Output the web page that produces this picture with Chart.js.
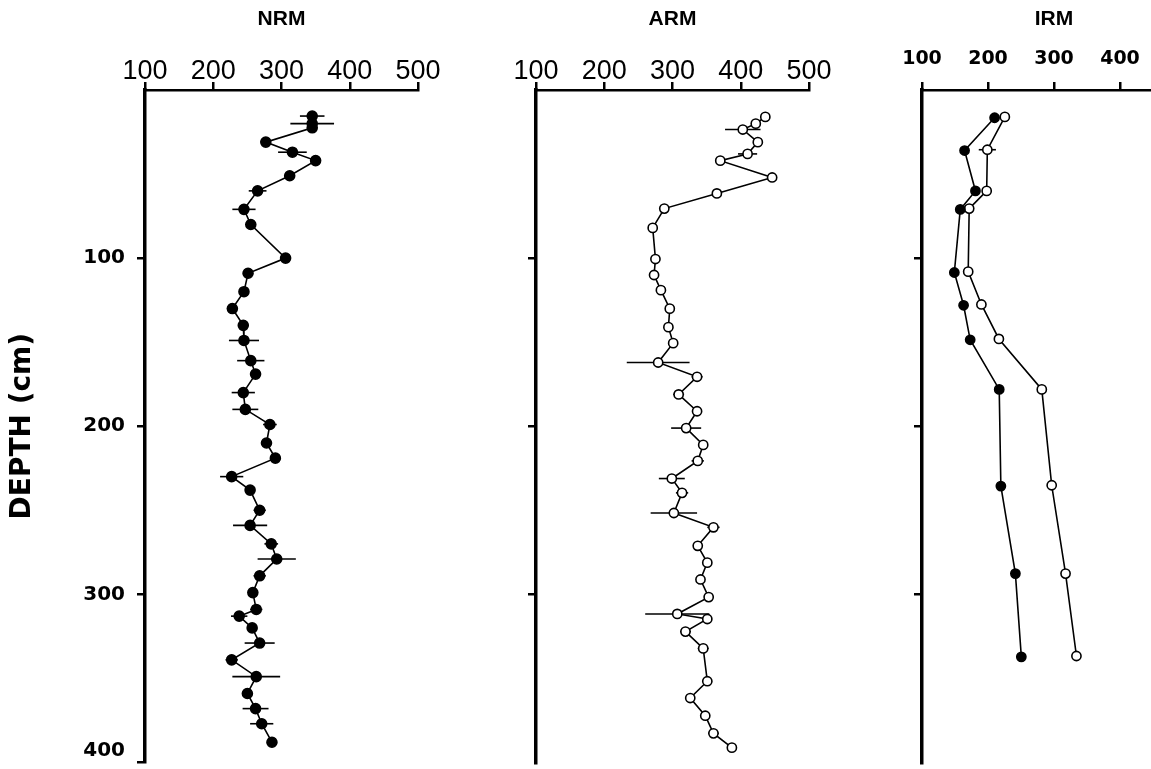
<!DOCTYPE html>
<html><head><meta charset="utf-8">
<script src="https://cdn.jsdelivr.net/npm/chart.js@4.4.1/dist/chart.umd.min.js"></script>
<style>
html,body{margin:0;padding:0;background:#fff;overflow:hidden;width:1151px;height:769px;position:relative;}
canvas{position:absolute;top:0;}
</style></head><body>
<canvas id="nrm" width="460" height="769" style="left:0px"></canvas>
<canvas id="arm" width="400" height="769" style="left:460px"></canvas>
<canvas id="irm" width="340" height="769" style="left:860px"></canvas>
<script>
// ---- data ----
const valueTicks = [100, 200, 300, 400, 500];
const nrmDepthTicks = [100, 200, 300, 400];
const otherDepthTicks = [100, 200, 300];

const nrmDepth = [15.5, 20, 22.5, 31, 37, 42, 51, 60, 71, 80, 100, 109, 120, 130, 140, 149, 161, 169, 180, 190, 199, 210, 219, 230, 238, 250, 259, 270, 279, 289, 299, 309, 313, 320, 329, 339, 349, 359, 368, 377, 388];
const nrmValue = [345, 345, 345, 277, 316, 350, 312, 265, 245, 255, 306, 251, 245, 228, 244, 245, 255, 262, 244, 247, 283, 278, 291, 227, 254, 268, 254, 285, 293, 268, 258, 263, 238, 257, 268, 227, 263, 250, 262, 271, 286];
const nrmError = [18, 32, 0, 0, 21, 0, 0, 13, 17, 5, 0, 0, 5, 8, 5, 22, 20, 8, 17, 19, 10, 0, 0, 17, 5, 9, 25, 10, 28, 9, 0, 9, 12, 6, 22, 9, 35, 0, 19, 17, 0];

const armDepth = [16, 20, 23.5, 31, 38, 42, 52, 61.5, 70.5, 82, 100.5, 110, 119, 130, 141, 150.5, 162, 170.5, 181, 191, 201, 211, 220.5, 231, 239.5, 251.5, 260, 271, 281, 291, 301.5, 311.5, 314.5, 322, 332, 351.5, 361.5, 372, 382.5, 391];
const armValue = [436, 422, 403, 425, 410, 370, 446, 365, 288, 271, 275, 273, 283, 296, 294, 301, 279, 336, 309, 336, 320, 345, 337, 299, 314, 302, 360, 337, 351, 341, 353, 307, 351, 319, 345, 351, 326, 348, 360, 387];
const armError = [0, 0, 26, 0, 14, 0, 0, 0, 7, 0, 0, 0, 6, 5, 0, 7, 46, 8, 8, 7, 22, 7, 9, 19, 9, 34, 9, 7, 6, 5, 0, 47, 0, 8, 8, 7, 0, 0, 8, 0];

const irmFilledDepth = [16.5, 36, 60, 71, 108.5, 128, 148.5, 178, 235.5, 287.5, 337];
const irmFilledValue = [210, 164.5, 181, 158, 149, 163, 173, 217, 219.5, 241.5, 250.5];
const irmOpenDepth = [16, 35.5, 60, 70.5, 108, 127.5, 148, 178, 235, 287.5, 336.5];
const irmOpenValue = [225.5, 199, 198, 171.5, 170, 190, 216.5, 281.5, 296.5, 317.5, 334];
const irmOpenError = [0, 13, 0, 0, 0, 0, 0, 0, 0, 0, 0];

// ---- helpers ----
const pts = (depth, vals) => depth.map((d, i) => ({x: vals[i], y: d}));

const errorBars = {
  id: 'errorBars',
  beforeDatasetsDraw(chart) {
    const {ctx, scales: {x, y}} = chart;
    chart.data.datasets.forEach(ds => {
      if (!ds.errors) return;
      ctx.save();
      ctx.strokeStyle = '#000';
      ctx.lineWidth = 1.6;
      ds.data.forEach((p, i) => {
        const e = ds.errors[i];
        if (!e) return;
        const py = y.getPixelForValue(p.y);
        ctx.beginPath();
        ctx.moveTo(x.getPixelForValue(p.x - e), py);
        ctx.lineTo(x.getPixelForValue(p.x + e), py);
        ctx.stroke();
      });
      ctx.restore();
    });
  }
};

function series(data, errors, filled, radius) {
  return {
    data, errors,
    showLine: true,
    borderColor: '#000', borderWidth: 1.6,
    pointRadius: radius, pointHoverRadius: radius,
    pointBackgroundColor: filled ? '#000' : '#fff',
    pointBorderColor: '#000', pointBorderWidth: 1.6,
    tension: 0
  };
}

function panel(id, o) {
  new Chart(document.getElementById(id), {
    type: 'scatter',
    data: {datasets: o.datasets},
    plugins: [errorBars],
    options: {
      responsive: false, animation: false, events: [],
      layout: {padding: {left: 0, right: o.padRight, top: 0, bottom: 2}},
      plugins: {legend: {display: false}, tooltip: {enabled: false}},
      scales: {
        x: {
          type: 'linear', position: 'top', min: 100, max: 500,
          afterBuildTicks: s => { s.ticks = o.xTicks.map(v => ({value: v})); },
          afterFit: s => { s.height = 90; s.paddingLeft = 0; s.paddingRight = 0; },
          border: {display: true, color: '#000', width: 2.5},
          grid: {display: true, drawOnChartArea: false, drawTicks: true, tickLength: 8, color: '#000', lineWidth: 2.5},
          ticks: {color: '#000', padding: o.xPad, font: o.xFont, maxRotation: 0, autoSkip: false},
          title: {display: true, text: o.title, color: '#000', font: {family: 'Liberation Sans', size: 21, weight: 'bold'}, padding: {top: 7, bottom: 0}}
        },
        y: {
          type: 'linear', position: 'left', min: 0, max: 400, reverse: true,
          afterBuildTicks: s => { s.ticks = o.yTicks.map(v => ({value: v})); },
          afterFit: s => { s.width = o.yWidth; s.paddingTop = 0; s.paddingBottom = 0; },
          border: {display: true, color: '#000', width: 3.5},
          grid: {display: true, drawOnChartArea: false, drawTicks: true, tickLength: 8, color: '#000', lineWidth: 2.5},
          ticks: {
            display: o.yLabels, color: '#000', padding: 12,
            font: {family: 'DejaVu Sans', size: 20, weight: 'bold'},
            callback: v => v === 400 ? ['400', ''] : String(v)
          },
          title: {display: o.yLabels, text: 'DEPTH (cm)', color: '#000', font: {family: 'DejaVu Sans', size: 28, weight: 'bold'}, padding: {top: 6, bottom: 0}}
        }
      }
    }
  });
}

panel('nrm', {
  title: 'NRM', yWidth: 145, padRight: 42, xTicks: valueTicks, yTicks: nrmDepthTicks, yLabels: true,
  xPad: -6, xFont: {family: 'Liberation Sans', size: 27},
  datasets: [series(pts(nrmDepth, nrmValue), nrmError, true, 5)]
});
panel('arm', {
  title: 'ARM', yWidth: 76, padRight: 51, xTicks: valueTicks, yTicks: otherDepthTicks, yLabels: false,
  xPad: -6, xFont: {family: 'Liberation Sans', size: 27},
  datasets: [series(pts(armDepth, armValue), armError, false, 4.6)]
});
panel('irm', {
  title: 'IRM', yWidth: 62, padRight: 14, xTicks: valueTicks, yTicks: otherDepthTicks, yLabels: false,
  xPad: 12, xFont: {family: 'DejaVu Sans', size: 19, weight: 'bold'},
  datasets: [
    series(pts(irmFilledDepth, irmFilledValue), null, true, 4.6),
    series(pts(irmOpenDepth, irmOpenValue), irmOpenError, false, 4.6)
  ]
});
</script>
</body></html>
